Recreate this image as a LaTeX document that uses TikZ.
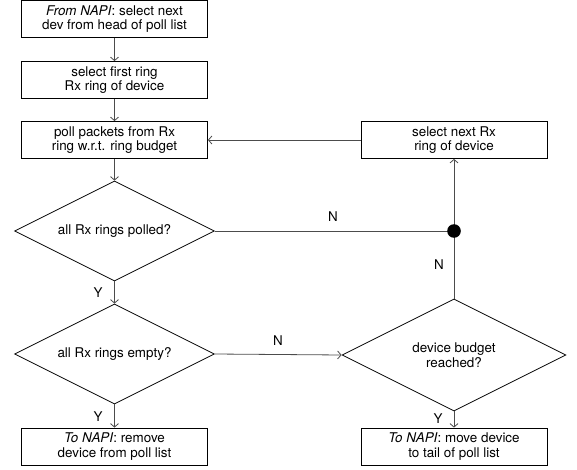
\documentclass[tikz,border=0pt]{standalone}
\usepackage{fontspec}
\setmainfont{TeX Gyre Heros}
\usetikzlibrary{shapes.geometric,arrows.meta}
\begin{document}
\begin{tikzpicture}[x=1pt,y=-1pt,
  font=\fontsize{13.4}{14.5}\selectfont,
  procbox/.style={draw=black,line width=0.8pt,rectangle,minimum width=186pt,minimum height=37pt,inner sep=0pt,align=center},
  decbox/.style={draw=black,line width=0.8pt,diamond,inner sep=0pt},
  dectext/.style={inner sep=0pt,align=center},
  conn/.style={draw=black!70,line width=0.8pt},
  arr/.style={conn,-{Straight Barb[length=3.5pt,width=8pt]}},
  lbl/.style={inner sep=0pt}]
\useasboundingbox (0,0) rectangle (577,470);
\node[procbox] (b1) at (114.5,19) {\textit{From NAPI}: select next\\dev from head of poll list};
\node[procbox] (b2) at (114.5,80) {select first ring\\Rx ring of device};
\node[procbox] (b3) at (114.5,140) {poll packets from Rx\\ring w.r.t. ring budget};
\node[decbox,minimum width=200pt,minimum height=100pt] (d1) at (114.5,231) {};
\node[dectext] (t1) at (d1) {all Rx rings polled?};
\node[decbox,minimum width=200pt,minimum height=100pt] (d2) at (114.5,354) {};
\node[dectext] (t2) at (d2) {all Rx rings empty?};
\node[decbox,minimum width=224pt,minimum height=112pt] (d3) at (454,355) {};
\node[dectext] (t3) at (d3) {device budget\\reached?};
\node[procbox] (b4) at (454,140) {select next Rx\\ring of device};
\node[procbox] (b5) at (114.5,446.5) {\textit{To NAPI}: remove\\device from poll list};
\node[procbox] (b6) at (454,446.5) {\textit{To NAPI}: move device\\to tail of poll list};
\coordinate (dot) at (454,231);
\draw[arr] (b1) -- (b2);
\draw[arr] (b2) -- (b3);
\draw[arr] (b3) -- (d1);
\draw[arr] (d1) -- (d2);
\draw[arr] (d2) -- (b5);
\draw[arr] (d3) -- (b6);
\draw[arr] (d2.east) -- (d3.west);
\draw[conn] (d1.east) -- (dot);
\draw[conn] (d3.north) -- (dot);
\draw[arr] (dot) -- (b4.south);
\draw[arr] (b4.west) -- (b3.east);
\fill[black] (dot) circle (6.8pt);
\node[lbl] (n1) at (333,217) {N};
\node[lbl] (n2) at (439,265) {N};
\node[lbl] (n3) at (278,341) {N};
\node[lbl] (y1) at (98,293) {Y};
\node[lbl] (y2) at (98,417) {Y};
\node[lbl] (y3) at (438,419) {Y};
\end{tikzpicture}
\end{document}
